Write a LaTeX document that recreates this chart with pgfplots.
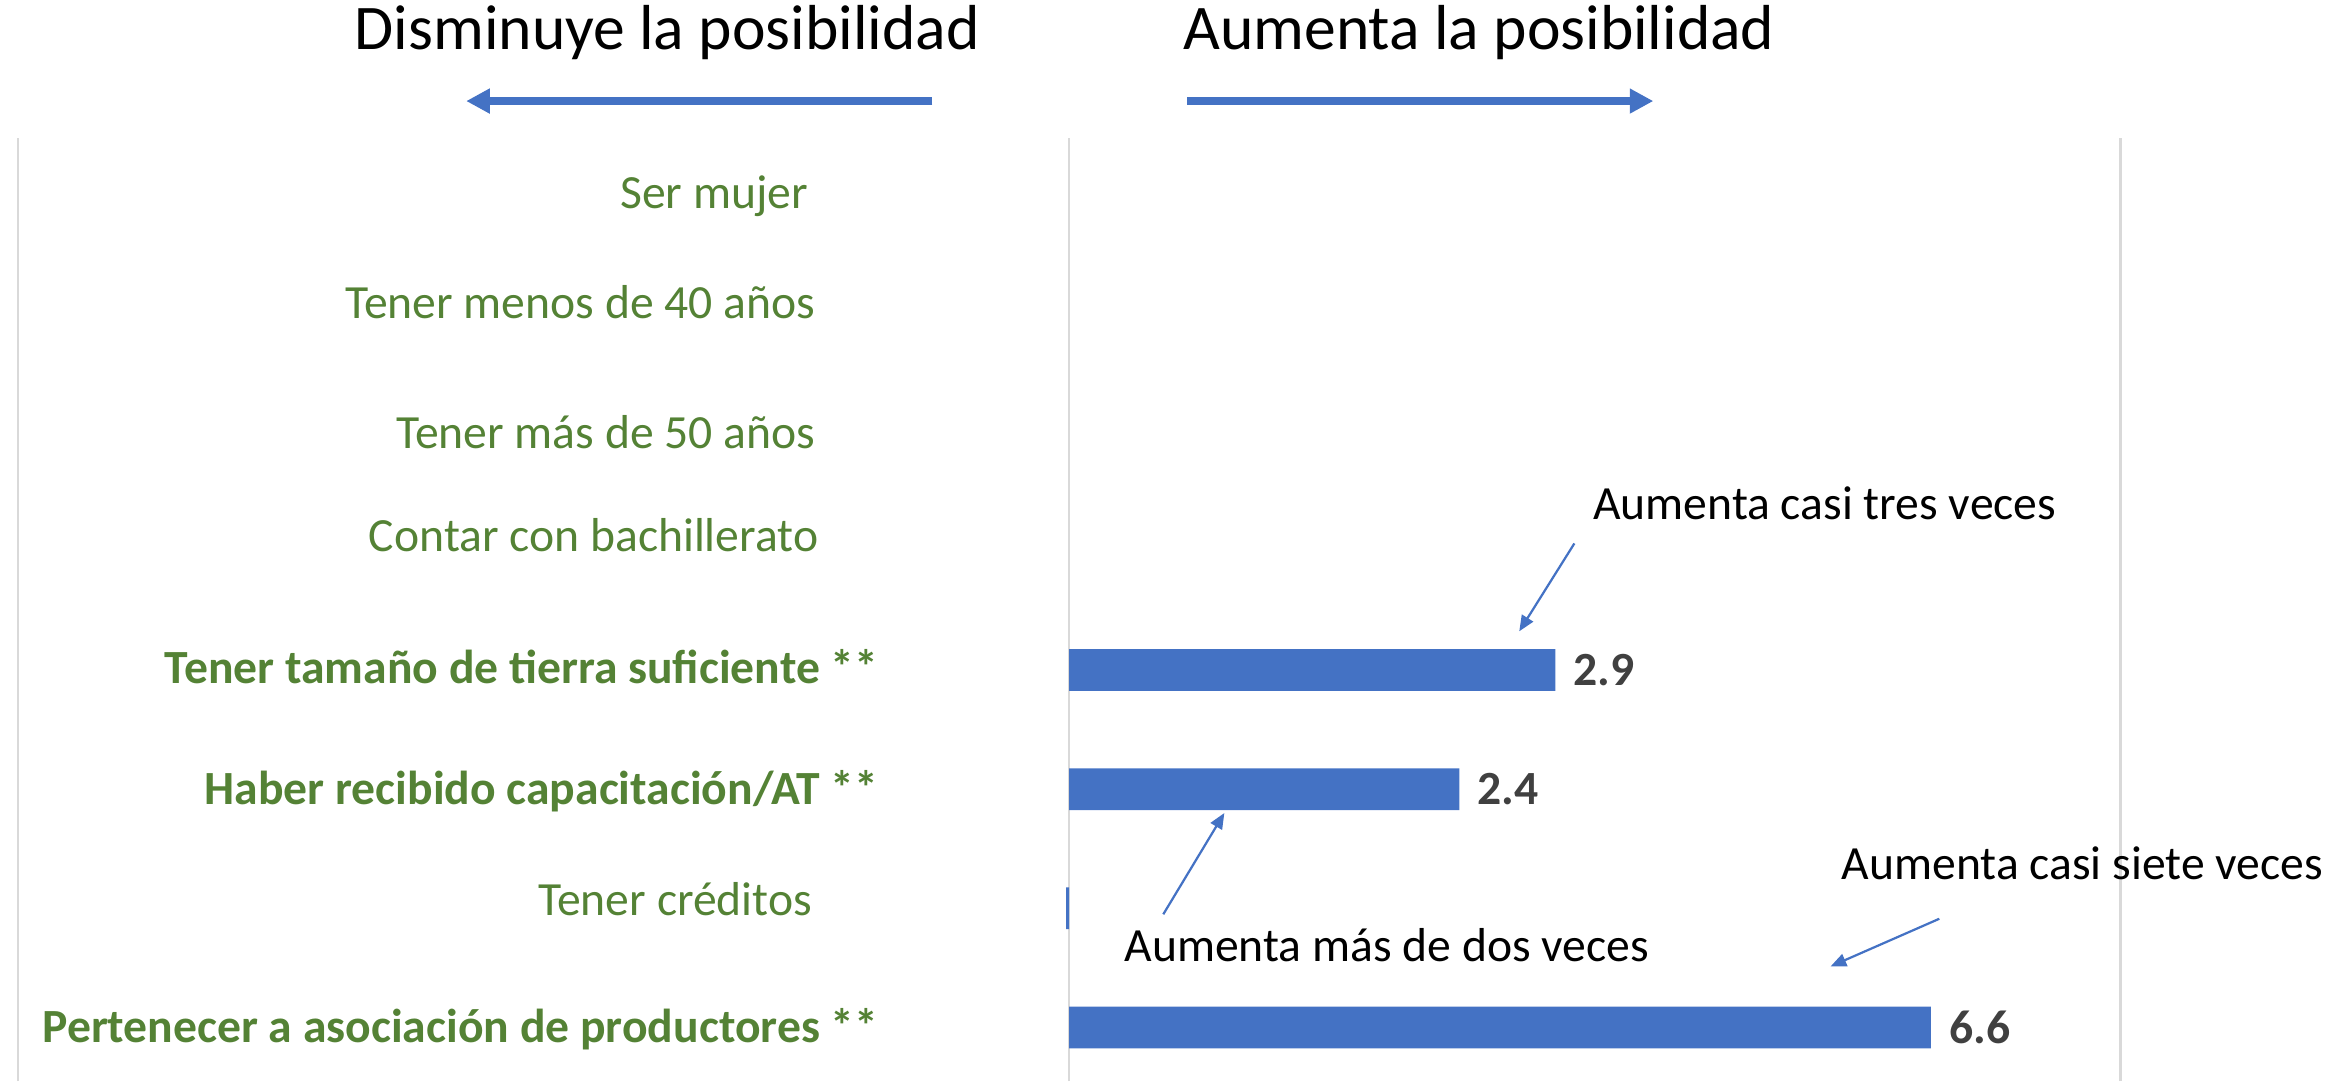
\documentclass[border=0pt]{standalone}
\usepackage{pgfplots}
\pgfplotsset{compat=1.18}
\usepackage{fontspec}
\setmainfont{Carlito}
\definecolor{barblue}{HTML}{4472C4}
\definecolor{lblgreen}{HTML}{548235}
\definecolor{gridgray}{HTML}{D9D9D9}
\definecolor{numgray}{HTML}{404040}
\usetikzlibrary{arrows.meta}
\newcommand{\lbl}{\fontsize{18.2}{22}\selectfont}
\newcommand{\hdr}{\fontsize{24.3}{29}\selectfont}
\begin{document}
\begin{tikzpicture}
\useasboundingbox (0,0) rectangle (31.36cm,14.52cm);
\begin{axis}[
  at={(0.24cm,0cm)}, anchor=south west, scale only axis,
  width=28.24cm, height=12.66cm,
  xmode=log, xmin=0.1, xmax=10, ymin=-0.45, ymax=7.46,
  axis line style={draw=none},
  xtick={0.1,1,10}, minor xtick={}, xticklabels={}, ytick=\empty,
  major tick length=0pt, minor tick length=0pt,
  tick style={draw=none}, minor tick style={draw=none},
  xmajorgrids, grid style={color=gridgray, line width=0.85pt},
  clip=false,
]
% bars (odds ratios, log axis, base at 1)
\addplot[fill=barblue, draw=none] coordinates {(1,2.825) (2.9,2.825) (2.9,3.175) (1,3.175) (1,2.825)};
\addplot[fill=barblue, draw=none] coordinates {(1,1.825) (2.35,1.825) (2.35,2.175) (1,2.175) (1,1.825)};
\addplot[fill=barblue, draw=none] coordinates {(0.993,0.825) (1,0.825) (1,1.175) (0.993,1.175) (0.993,0.825)};
\addplot[fill=barblue, draw=none] coordinates {(1,-0.175) (6.6,-0.175) (6.6,0.175) (1,0.175) (1,-0.175)};
% data labels
\node[anchor=west, inner sep=0pt, xshift=0.24cm, text=numgray, font=\lbl\bfseries] at (axis cs:2.9,3) {2.9};
\node[anchor=west, inner sep=0pt, xshift=0.24cm, text=numgray, font=\lbl\bfseries] at (axis cs:2.35,2) {2.4};
\node[anchor=west, inner sep=0pt, xshift=0.24cm, text=numgray, font=\lbl\bfseries] at (axis cs:6.6,0) {6.6};
% category labels
\node[anchor=east, inner sep=0pt, text=lblgreen, font=\lbl] at (axis cs:0.565,6.975) {Ser mujer};
\node[anchor=east, inner sep=0pt, text=lblgreen, font=\lbl] at (axis cs:0.574,6.085) {Tener menos de 40 años};
\node[anchor=east, inner sep=0pt, text=lblgreen, font=\lbl] at (axis cs:0.574,4.995) {Tener más de 50 años};
\node[anchor=east, inner sep=0pt, text=lblgreen, font=\lbl] at (axis cs:0.578,4.135) {Contar con bachillerato};
\node[anchor=east, inner sep=0pt, text=lblgreen, font=\lbl\bfseries] at (axis cs:0.659,3.025) {Tener tamaño de tierra suficiente **};
\node[anchor=east, inner sep=0pt, text=lblgreen, font=\lbl\bfseries] at (axis cs:0.659,1.985) {Haber recibido capacitación/AT **};
\node[anchor=east, inner sep=0pt, text=lblgreen, font=\lbl] at (axis cs:0.570,1.075) {Tener créditos};
\node[anchor=east, inner sep=0pt, text=lblgreen, font=\lbl\bfseries] at (axis cs:0.659,-0.015) {Pertenecer a asociación de productores **};
\end{axis}
\begin{scope}[x=0.02cm,y=0.02cm]
% header
\node[font=\hdr, inner sep=0pt] at (448,704) {Disminuye la posibilidad};
\node[font=\hdr, inner sep=0pt] at (993,704) {Aumenta la posibilidad};
\draw[barblue, line width=3.2pt, -{Triangle[length=9pt,width=9pt]}] (626,658) -- (313,658);
\draw[barblue, line width=3.2pt, -{Triangle[length=9pt,width=9pt]}] (797,658) -- (1110,658);
% annotations
\node[font=\lbl, inner sep=0pt] at (1225,388) {Aumenta casi tres veces};
\node[font=\lbl, inner sep=0pt] at (931,91) {Aumenta más de dos veces};
\node[font=\lbl, inner sep=0pt] at (1398,146) {Aumenta casi siete veces};
\draw[barblue, line width=0.85pt, -{Triangle[length=6pt,width=5pt]}] (1057,361) -- (1020,302);
\draw[barblue, line width=0.85pt, -{Triangle[length=6pt,width=5pt]}] (781,112) -- (822,180);
\draw[barblue, line width=0.85pt, -{Triangle[length=6pt,width=5pt]}] (1302,109) -- (1229,77);
\end{scope}
\end{tikzpicture}
\end{document}
